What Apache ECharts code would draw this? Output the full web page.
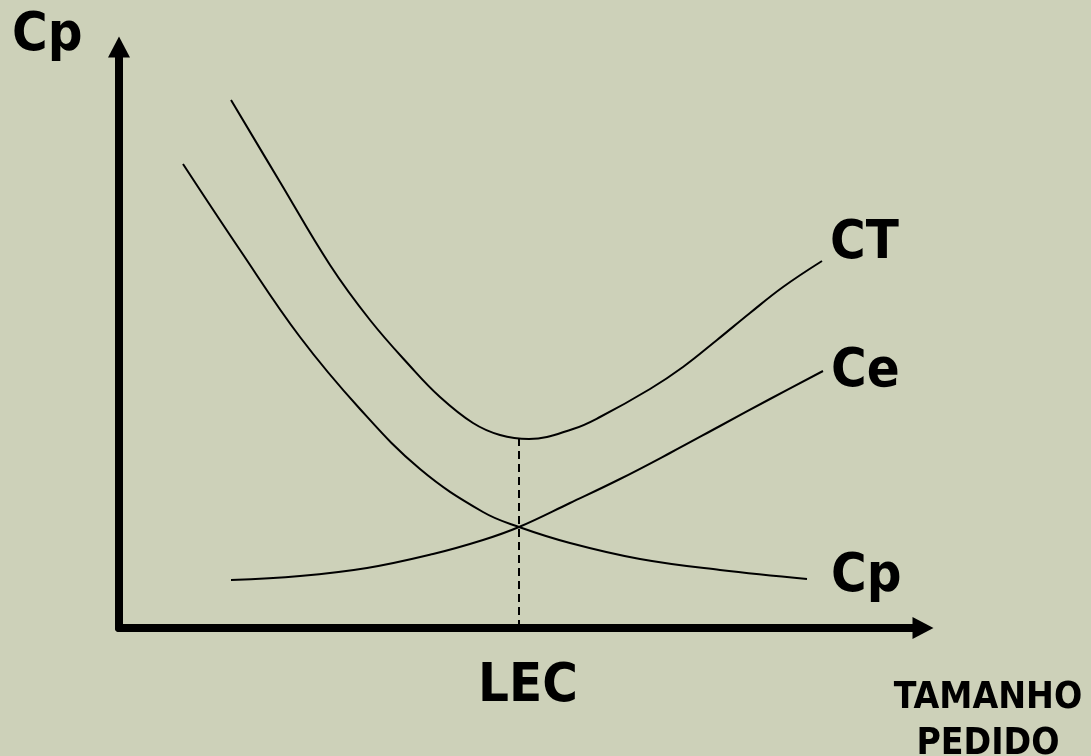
<!DOCTYPE html>
<html>
<head>
<meta charset="utf-8">
<script src="https://cdn.jsdelivr.net/npm/echarts@6/dist/echarts.min.js"></script>
<style>
html,body{margin:0;padding:0;background:#CDD1B9;}
#chart{width:1091px;height:756px;}
</style>
</head>
<body>
<div id="chart"></div>
<script>
// Values (x: order size, y: cost), arbitrary units
const ctX = [112, 161, 211, 251, 291, 321, 354, 381, 410, 454, 481, 531, 564, 598, 631, 664, 703];
const ctY = [528, 446, 363, 308, 262, 231, 205, 193, 189, 199, 211, 239, 261, 288, 315, 341, 367];
const ceX = [112, 181, 248, 314, 364, 400, 451, 501, 551, 601, 651, 704];
const ceY = [48, 52, 60, 74, 88, 101, 125, 149, 175, 202, 229, 257];
const cpX = [64, 121, 181, 241, 301, 364, 400, 451, 521, 601, 688];
const cpY = [464, 378, 291, 219, 159, 116, 101, 85, 69, 58, 49];
const lecX = [400, 400];
const lecY = [0, 190];
const seriesNames = ['CT', 'Ce', 'Cp'];
const axisTitles = { y: 'Cp', x: 'TAMANHO\nPEDIDO', lec: 'LEC' };

const FONT = "'DejaVu Sans Condensed', 'DejaVu Sans', sans-serif";
const zip = (xs, ys) => xs.map((x, i) => [x, ys[i]]);

function curve(name, xs, ys, offset) {
  return {
    name: name,
    type: 'line',
    data: zip(xs, ys),
    smooth: 0.4,
    showSymbol: false,
    silent: true,
    lineStyle: { color: '#000', width: 2 },
    endLabel: {
      show: true,
      formatter: name,
      color: '#000',
      fontFamily: FONT,
      fontWeight: 'bold',
      fontSize: 54,
      lineHeight: 54,
      distance: 8,
      offset: offset
    }
  };
}

const chart = echarts.init(document.getElementById('chart'), null, { renderer: 'canvas' });
chart.setOption({
  backgroundColor: '#CDD1B9',
  animation: false,
  title: [
    {
      text: axisTitles.y, left: 12, top: 9, padding: 0,
      textStyle: { fontFamily: FONT, fontWeight: 'bold', fontSize: 54, lineHeight: 54, color: '#000' }
    },
    {
      text: axisTitles.x, left: 988, top: 675, padding: 0, textAlign: 'center',
      textStyle: { fontFamily: FONT, fontWeight: 'bold', fontSize: 37, lineHeight: 46, color: '#000' }
    }
  ],
  grid: { left: 119, right: 168, top: 47, bottom: 128, containLabel: false },
  xAxis: {
    type: 'value', min: 0, max: 804,
    axisLine: { show: true, onZero: false, symbol: ['none', 'triangle'], symbolSize: [22, 21],
      lineStyle: { color: '#000', width: 8 } },
    axisTick: { show: false },
    splitLine: { show: false },
    axisLabel: {
      show: true, customValues: [lecX[0]], formatter: () => axisTitles.lec,
      margin: 32, padding: [0, 0, 0, 18],
      color: '#000', fontFamily: FONT, fontWeight: 'bold', fontSize: 54, lineHeight: 54
    }
  },
  yAxis: {
    type: 'value', min: 0, max: 581,
    axisLine: { show: true, onZero: false, symbol: ['none', 'triangle'], symbolSize: [22, 21],
      lineStyle: { color: '#000', width: 8 } },
    axisTick: { show: false },
    splitLine: { show: false },
    axisLabel: { show: false }
  },
  series: [
    curve(seriesNames[0], ctX, ctY, [0, -17]),
    curve(seriesNames[1], ceX, ceY, [0, 1]),
    curve(seriesNames[2], cpX, cpY, [16, -2]),
    {
      name: 'LEC', type: 'line', data: zip(lecX, lecY), showSymbol: false, silent: true,
      lineStyle: { color: '#000', width: 2, type: [8, 5] }
    }
  ]
});
</script>
</body>
</html>
